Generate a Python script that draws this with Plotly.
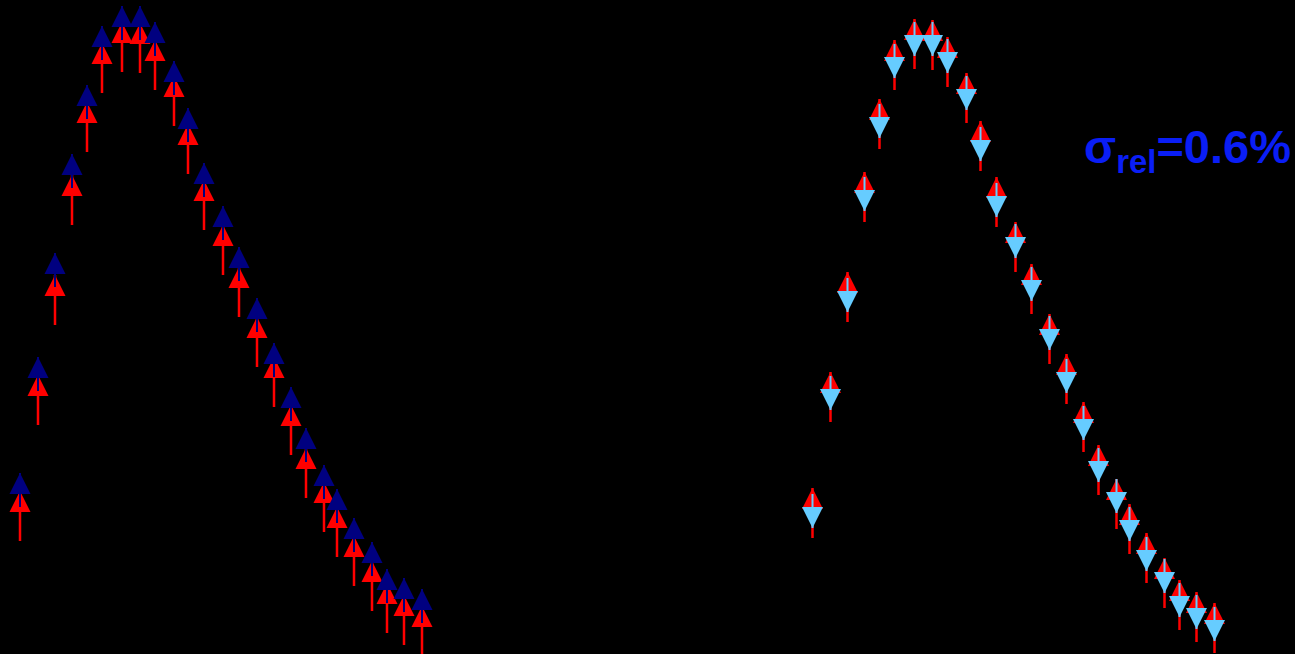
import plotly.graph_objects as go

# Channel positions, shared by both panels
channel = [20, 38, 55, 72, 87, 102, 122, 140, 155, 174, 188, 204, 223,
           239, 257, 274, 291, 306, 324, 337, 354, 372, 387, 404, 422]

# Measured response (red arrows, drawn in both panels)
measured = [163, 279, 379, 479, 552, 611, 632, 631, 614, 578, 530, 474, 429,
            387, 337, 297, 249, 206, 172, 147, 118, 93, 71, 59, 48]

# Reference response before calibration (navy arrows, left panel)
reference_raw = [181, 297, 401, 500, 569, 628, 648, 648, 632, 593, 546, 491, 448,
                 407, 356, 311, 267, 226, 189, 165, 136, 112, 85, 76, 65]

# Reference response after calibration (light-blue arrows, right panel)
reference_cal = [123, 241, 339, 440, 513, 573, 595, 595, 578, 541, 490, 434, 393,
                 350, 301, 258, 211, 169, 138, 110, 80, 58, 34, 22, 10]

# Arrow shaft lengths (in response units)
shaft_measured = 50
shaft_reference = 34

n = len(channel)
W, H = 1295, 654

RED = "#FF0000"
NAVY = "#000080"
SKY = "#66CCFF"


def arrow_trace(y, color, symbol, shaft, thickness, up_shaft, xa, ya):
    err = dict(type="data", symmetric=False, color=color,
               thickness=thickness, width=0)
    if up_shaft:
        err["array"] = [shaft] * n
        err["arrayminus"] = [0] * n
    else:
        err["array"] = [0] * n
        err["arrayminus"] = [shaft] * n
    return go.Scatter(
        x=channel, y=y, mode="markers", xaxis=xa, yaxis=ya,
        marker=dict(symbol=symbol, size=21, color=color,
                    line=dict(width=0)),
        error_y=err, showlegend=False, hoverinfo="skip",
    )


fig = go.Figure()

# Left panel: measured vs. raw reference
fig.add_trace(arrow_trace(measured, RED, "arrow-up", shaft_measured, 2.5, False, "x", "y"))
fig.add_trace(arrow_trace(reference_raw, NAVY, "arrow-up", shaft_reference, 2, False, "x", "y"))

# Right panel: measured vs. calibrated reference
fig.add_trace(arrow_trace(measured, RED, "arrow-up", shaft_measured, 2.5, False, "x2", "y2"))
fig.add_trace(arrow_trace(reference_cal, SKY, "arrow-down", shaft_reference, 2, True, "x2", "y2"))

hidden = dict(visible=False, showgrid=False, zeroline=False, fixedrange=True)

fig.update_layout(
    width=W, height=H,
    margin=dict(l=0, r=0, t=0, b=0),
    paper_bgcolor="black", plot_bgcolor="black",
    xaxis=dict(domain=[0, 518 / W], range=[0, 518], **hidden),
    yaxis=dict(domain=[0, 1], range=[0, 654], **hidden),
    xaxis2=dict(domain=[792.5 / W, 1], range=[0, 502.5], anchor="y2", **hidden),
    yaxis2=dict(domain=[0, 1], range=[-3, 651], anchor="x2", **hidden),
    annotations=[dict(
        text="<b>σ<sub>rel</sub>=0.6%</b>",
        xref="paper", yref="paper", x=1082 / W, y=1 - 150 / H,
        xanchor="left", yanchor="middle", showarrow=False,
        font=dict(family="Liberation Sans, Arial, sans-serif", size=47, color="#0A1EF5"),
    )],
)

fig.write_html("out.html")
